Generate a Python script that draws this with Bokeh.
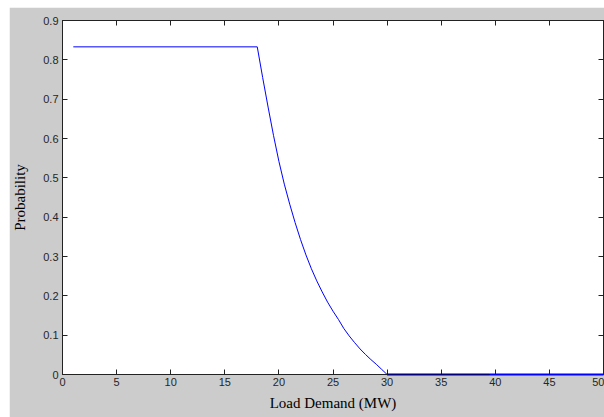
from bokeh.plotting import figure
from bokeh.models import Range1d, FixedTicker, LinearAxis
from bokeh.embed import file_html
from bokeh.resources import INLINE

# ---- data ----
curve_x = [1, 18, 18.5, 19, 19.5, 20, 20.5, 21, 21.5, 22, 22.5, 23, 23.5, 24, 24.5,
           25, 25.5, 26, 26.5, 27, 27.5, 28, 28.5, 29, 29.5, 30]
curve_y = [0.833, 0.833, 0.755, 0.680, 0.608, 0.542, 0.484, 0.433, 0.386, 0.343, 0.304,
           0.269, 0.238, 0.210, 0.184, 0.161, 0.140, 0.117, 0.098, 0.081, 0.065, 0.051,
           0.038, 0.026, 0.013, 0.0]
dark_x = [30, 39.5]
dark_y = [0.0, 0.0]
tail_x = [39.5, 50]
tail_y = [0.0, 0.0]

x_ticks = [0, 5, 10, 15, 20, 25, 30, 35, 40, 45, 50]
y_ticks = [0, 0.1, 0.2, 0.3, 0.4, 0.5, 0.6, 0.7, 0.8, 0.9]
y_tick_labels = ["0", "0.1", "0.2", "0.3", "0.4", "0.5", "0.6", "0.7", "0.8", "0.9"]

GRAY = "#cccccc"

p = figure(width=595, height=410, output_backend="svg", toolbar_location=None,
           x_range=Range1d(0, 50), y_range=Range1d(0, 0.9),
           x_axis_label="Load Demand (MW)", y_axis_label="Probability",
           min_border_left=53, min_border_top=13, min_border_right=1, min_border_bottom=43,
           border_fill_color=GRAY, background_fill_color="white",
           outline_line_color="black", outline_line_width=1,
           margin=(7, 0, 0, 9))

p.xgrid.visible = False
p.ygrid.visible = False

p.line(curve_x, curve_y, line_color="#0000ff", line_width=1)
p.line(tail_x, tail_y, line_color="#0000ff", line_width=2, level="overlay")
p.line(dark_x, dark_y, line_color="#00007a", line_width=2, level="overlay")

def style(ax, labels=True):
    ax.major_tick_in = 5
    ax.major_tick_out = 0
    ax.minor_tick_line_color = None
    ax.axis_line_color = "#222222"
    ax.major_tick_line_color = "#222222"
    ax.major_label_text_font = "Liberation Sans"
    ax.major_label_text_font_size = "11px"
    ax.major_label_text_color = "#262626"
    ax.axis_label_text_font = "Liberation Serif"
    ax.axis_label_text_font_size = "15px"
    ax.axis_label_text_font_style = "normal"
    ax.axis_label_text_color = "black"
    if not labels:
        ax.major_label_text_font_size = "1px"
        ax.major_label_text_color = None
        ax.major_label_standoff = 0
        ax.axis_label = None

xa = p.xaxis[0]
ya = p.yaxis[0]
xa.ticker = FixedTicker(ticks=x_ticks)
ya.ticker = FixedTicker(ticks=y_ticks)
ya.major_label_overrides = {t: l for t, l in zip(y_ticks, y_tick_labels)}
style(xa)
style(ya)
xa.major_label_standoff = 3
ya.major_label_standoff = 4
xa.axis_label_standoff = 6
ya.axis_label_standoff = 12

top = LinearAxis(ticker=FixedTicker(ticks=x_ticks))
right = LinearAxis(ticker=FixedTicker(ticks=y_ticks))
style(top, labels=False)
style(right, labels=False)
p.add_layout(top, "above")
p.add_layout(right, "right")

open("out.html", "w").write(file_html(p, INLINE))
